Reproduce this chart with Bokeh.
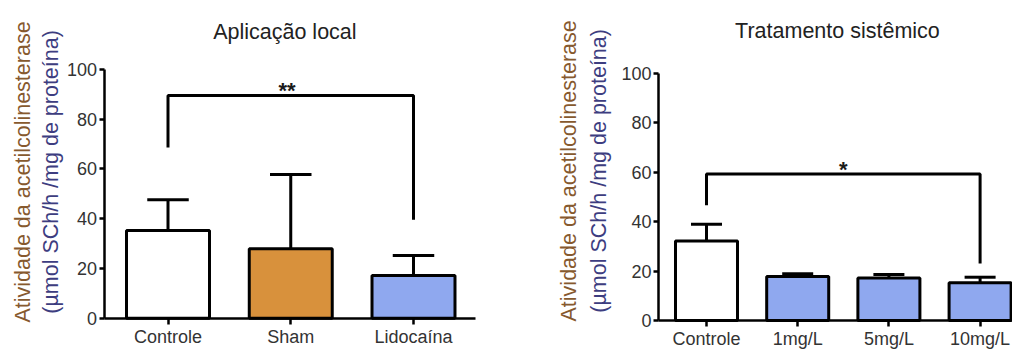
import math
from bokeh.plotting import figure
from bokeh.models import Range1d, FixedTicker, ColumnDataSource
from bokeh.layouts import row
from bokeh.embed import file_html
from bokeh.resources import INLINE
from bokeh.core.properties import value
import numpy as np

# ---------------- data ----------------
local_title = "Aplicação local"
local_cats = ["Controle", "Sham", "Lidocaína"]
local_means = [35.3, 27.9, 17.2]
local_sd = [12.3, 29.9, 8.0]
local_colors = ["#ffffff", "#d8913c", "#8fa8ef"]
local_sig = "**"
local_pair = [0, 2]
local_bracket_top = 89.5
local_bracket_ends = [68.6, 39.6]

sys_title = "Tratamento sistêmico"
sys_cats = ["Controle", "1mg/L", "5mg/L", "10mg/L"]
sys_means = [32.1, 17.8, 17.2, 15.3]
sys_sd = [6.8, 1.1, 1.4, 2.2]
sys_colors = ["#ffffff", "#8fa8ef", "#8fa8ef", "#8fa8ef"]
sys_sig = "*"
sys_pair = [0, 3]
sys_bracket_top = 59.2
sys_bracket_ends = [46.6, 23.0]

y_ticks = [0, 20, 40, 60, 80, 100]
ylab1 = "Atividade da acetilcolinesterase"
ylab2 = "(µmol SCh/h /mg de proteína)"

FONT = "Liberation Sans"
H = 349


def panel(title, cats, means, sd, colors, sig, pair, btop, bends, width, xr, yr,
          yaxis_x, xaxis_end, bw, title_xy, lab_x, lab_y, sig_xy):
    p = figure(width=width, height=H, output_backend="svg", toolbar_location=None,
               x_range=Range1d(*xr), y_range=Range1d(*yr),
               min_border_left=0, min_border_right=0, min_border_top=0,
               min_border_bottom=0)
    p.title.visible = False
    p.outline_line_color = None
    p.xgrid.visible = False
    p.ygrid.visible = False
    p.background_fill_color = "white"
    p.border_fill_color = "white"

    idx = np.arange(len(cats))
    means = np.array(means)
    sd = np.array(sd)
    src = ColumnDataSource(dict(x=idx, top=means, color=colors, err=means + sd,
                                c0=idx - bw / 4, c1=idx + bw / 4))
    p.vbar(x="x", top="top", width=bw, bottom=0, fill_color="color", line_color="black",
           line_width=3, source=src)
    p.segment(x0="x", y0="top", x1="x", y1="err", line_color="black", line_width=3, source=src)
    p.segment(x0="c0", y0="err", x1="c1", y1="err", line_color="black", line_width=3, source=src)

    # significance bracket
    xa, xb = pair
    p.line(x=[xa, xa, xb, xb], y=[bends[0], btop, btop, bends[1]], line_color="black",
           line_width=3)
    p.text(x=[sig_xy[0]], y=[sig_xy[1]], text=[sig], text_font=value(FONT),
           text_font_size="22px", text_font_style="bold",
           text_align="center", text_baseline="alphabetic", text_color="#1a1a1a")

    # title
    p.text(x=[title_xy[0]], y=[title_xy[1]], text=[title], text_font=value(FONT),
           text_font_size="21.5px", text_align="center", text_baseline="alphabetic",
           text_color="#222222")

    # y-axis label (two lines)
    p.text(x=[lab_x[0]], y=[lab_y], text=[ylab1], angle=math.pi / 2,
           text_font=value(FONT), text_font_size="21.5px", text_align="center",
           text_baseline="middle", text_color="#86592e")
    p.text(x=[lab_x[1]], y=[lab_y], text=[ylab2], angle=math.pi / 2,
           text_font=value(FONT), text_font_size="21.5px", text_align="center",
           text_baseline="middle", text_color="#3d3d80")

    # axes
    xa_ = p.xaxis[0]
    xa_.fixed_location = 0
    xa_.ticker = FixedTicker(ticks=list(idx))
    xa_.major_label_overrides = {int(i): c for i, c in zip(idx, cats)}
    xa_.bounds = (yaxis_x, xaxis_end)
    xa_.axis_line_width = 2.5
    xa_.major_tick_line_width = 2.5
    xa_.major_tick_out = 6
    xa_.major_tick_in = 0
    xa_.minor_tick_line_color = None
    xa_.major_label_standoff = 3
    xa_.major_label_text_font = FONT
    xa_.major_label_text_font_size = "18px"
    xa_.major_label_text_color = "#333333"

    ya = p.yaxis[0]
    ya.fixed_location = yaxis_x
    ya.ticker = FixedTicker(ticks=y_ticks)
    ya.bounds = (0, 100)
    ya.axis_line_width = 2.5
    ya.major_tick_line_width = 2.5
    ya.major_tick_out = 5
    ya.major_tick_in = 0
    ya.minor_tick_line_color = None
    ya.major_label_standoff = 2
    ya.major_label_text_font = FONT
    ya.major_label_text_font_size = "18px"
    ya.major_label_text_color = "#333333"
    return p


# left panel: frame covers whole canvas 548 x 349
p1 = panel(local_title, local_cats, local_means, local_sd, local_colors, local_sig,
           local_pair, local_bracket_top, local_bracket_ends,
           width=548, xr=(-1.3646, 3.0998), yr=(-12.585, 127.74),
           yaxis_x=-0.5214, xaxis_end=2.505, bw=0.676,
           title_xy=(0.952, 115.0), lab_x=(-1.1853, -0.9572), lab_y=58.8,
           sig_xy=(0.97, 91.5))
# right panel: frame covers whole canvas 464 x 349
p2 = panel(sys_title, sys_cats, sys_means, sys_sd, sys_colors, sys_sig,
           sys_pair, sys_bracket_top, sys_bracket_ends,
           width=464, xr=(-1.7325, 3.3553), yr=(-11.73, 129.4),
           yaxis_x=-0.526, xaxis_end=3.4, bw=0.68,
           title_xy=(1.436, 117.0), lab_x=(-1.513, -1.184), lab_y=60.5,
           sig_xy=(1.5, 61.2))

layout = row(p1, p2)
open("out.html", "w").write(file_html(layout, INLINE))
